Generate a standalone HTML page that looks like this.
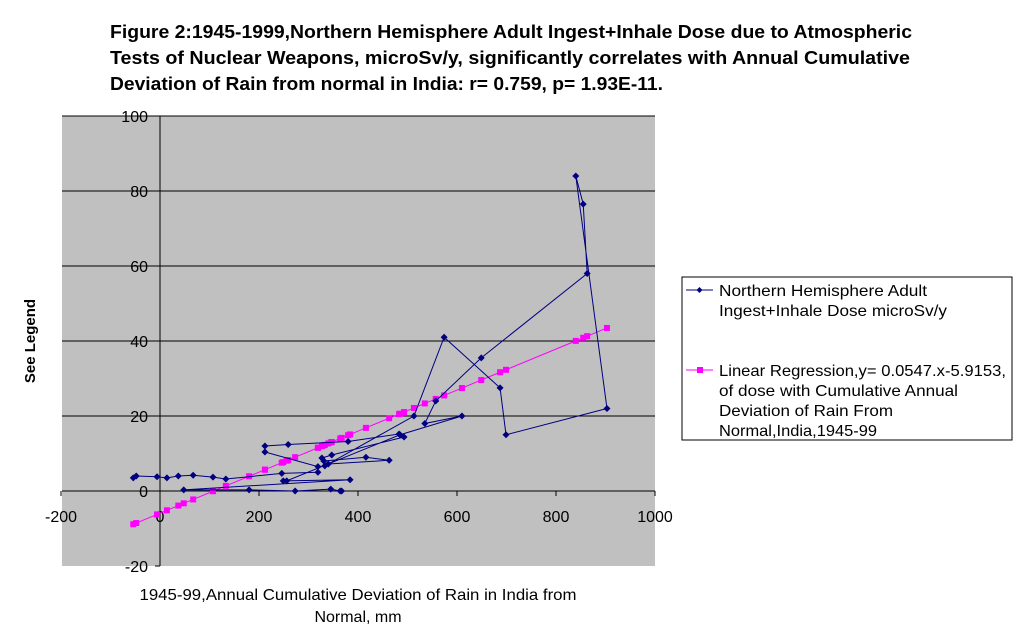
<!DOCTYPE html>
<html><head><meta charset="utf-8"><style>
body{margin:0;background:#fff;width:1020px;height:637px;overflow:hidden;font-family:"Liberation Sans",Arial,sans-serif}
svg text{font-family:"Liberation Sans",Arial,sans-serif}
</style></head><body>
<svg id="chart" width="1020" height="637" xmlns="http://www.w3.org/2000/svg">
<g font-size="18" font-weight="bold" fill="#000">
<text x="110" y="38" textLength="802" lengthAdjust="spacingAndGlyphs">Figure 2:1945-1999,Northern Hemisphere Adult Ingest+Inhale Dose due to Atmospheric</text>
<text x="110" y="64" textLength="800" lengthAdjust="spacingAndGlyphs">Tests of Nuclear Weapons, microSv/y, significantly correlates with Annual Cumulative</text>
<text x="110" y="90" textLength="553" lengthAdjust="spacingAndGlyphs">Deviation of Rain from normal in India: r= 0.759, p= 1.93E-11.</text>
</g>
<rect x="62" y="116" width="593" height="450" fill="#c0c0c0"/>
<g id="grid"></g>
<g id="axes"></g>
<g id="series"></g>
<text transform="translate(35,341) rotate(-90)" font-size="15" font-weight="bold" text-anchor="middle">See Legend</text>
<text font-size="16" text-anchor="middle"><tspan x="358" y="600" textLength="437" lengthAdjust="spacingAndGlyphs">1945-99,Annual Cumulative Deviation of Rain in India from</tspan><tspan x="358" y="622">Normal, mm</tspan></text>
<g>
<rect x="682" y="277" width="330" height="163" fill="#fff" stroke="#000"/>
<g>
<line x1="686" y1="290" x2="713" y2="290" stroke="#000080"/>
<path d="M699.5,287 L702.5,290 L699.5,293 L696.5,290Z" fill="#000080"/>
<text x="719" y="296" font-size="16" textLength="208" lengthAdjust="spacingAndGlyphs">Northern Hemisphere Adult</text>
<text x="719" y="316" font-size="16" textLength="228" lengthAdjust="spacingAndGlyphs">Ingest+Inhale Dose microSv/y</text>
</g>
<g>
<line x1="686" y1="370" x2="713" y2="370" stroke="#ff00ff"/>
<rect x="697" y="367" width="6" height="6" fill="#ff00ff"/>
<text x="719" y="376" font-size="16" textLength="287" lengthAdjust="spacingAndGlyphs">Linear Regression,y= 0.0547.x-5.9153,</text>
<text x="719" y="396" font-size="16" textLength="239" lengthAdjust="spacingAndGlyphs">of dose with Cumulative Annual</text>
<text x="719" y="416" font-size="16" textLength="174" lengthAdjust="spacingAndGlyphs">Deviation of Rain From</text>
<text x="719" y="436" font-size="16" textLength="158" lengthAdjust="spacingAndGlyphs">Normal,India,1945-99</text>
</g>
</g>
</svg>
<script>
const rainX=[-54,-48,-6,14,37,67,107,133,246,319,319,212,212,259,380,483,493,347,327,331,416,463,340,333,513,574,687,699,903,840,855,863,649,557,535,610,485,256,249,384,48,180,273,345,364,367];
const doseY=[3.5,4,3.8,3.5,4,4.2,3.7,3.2,4.7,5,6.5,10.4,12,12.4,13.2,15.2,14.4,9.6,8.8,8,9,8.2,7.2,6.7,20,41,27.5,15,22,84,76.5,58,35.5,24,18,20,15,2.7,2.7,3,0.3,0.3,0,0.5,0,0];
const slope=0.0547, intercept=-5.9153;
const xTicks=[-200,0,200,400,600,800,1000];
const yTicks=[-20,0,20,40,60,80,100];
const NS="http://www.w3.org/2000/svg";
const sx=v=>160+(v)*0.495;
const sy=v=>491-v*3.75;
function mk(tag,attrs,parent){const e=document.createElementNS(NS,tag);for(const k in attrs)e.setAttribute(k,attrs[k]);parent.appendChild(e);return e;}
const grid=document.getElementById('grid'),axes=document.getElementById('axes'),ser=document.getElementById('series');
yTicks.forEach(t=>{
 if(t>0){const l=mk('line',{x1:62,x2:655,y1:sy(t),y2:sy(t),stroke:'#000'},grid);
 
 }
 const tx=mk('text',{x:148,y:sy(t)+6,'font-size':16,'text-anchor':'end'},axes);tx.textContent=t;
 
 
});
xTicks.forEach(t=>{
 const tx=mk('text',{x:sx(t),y:sy(0)+31,'font-size':16,'text-anchor':'middle'},axes);tx.textContent=t;
 
 
 mk('line',{x1:sx(t),x2:sx(t),y1:sy(0),y2:sy(0)+5,stroke:'#000'},axes);
});
const xa=mk('line',{x1:62,x2:655,y1:sy(0),y2:sy(0),stroke:'#000'},axes);


const ya=mk('line',{x1:sx(0),x2:sx(0),y1:116,y2:566,stroke:'#000'},axes);


for(let v=-20;v<=100;v+=20)mk('line',{x1:sx(0)-5,x2:sx(0),y1:sy(v),y2:sy(v),stroke:'#000'},axes);
const sorted=[...rainX].sort((a,b)=>a-b);
const rl=mk('polyline',{points:sorted.map(x=>sx(x)+','+sy(slope*x+intercept)).join(' '),fill:'none',stroke:'#ff00ff','stroke-width':1},ser);


sorted.forEach(x=>{const r=mk('rect',{x:sx(x)-3,y:sy(slope*x+intercept)-3,width:6,height:6,fill:'#ff00ff'},ser);
 
 });
const dl=mk('polyline',{points:rainX.map((x,i)=>sx(x)+','+sy(doseY[i])).join(' '),fill:'none',stroke:'#000080','stroke-width':1},ser);


rainX.forEach((x,i)=>{const X=sx(x),Y=sy(doseY[i]);
 const p=mk('path',{d:`M${X},${Y-3.5}L${X+3.5},${Y}L${X},${Y+3.5}L${X-3.5},${Y}Z`,fill:'#000080'},ser);
 
 });
</script>
</body></html>
